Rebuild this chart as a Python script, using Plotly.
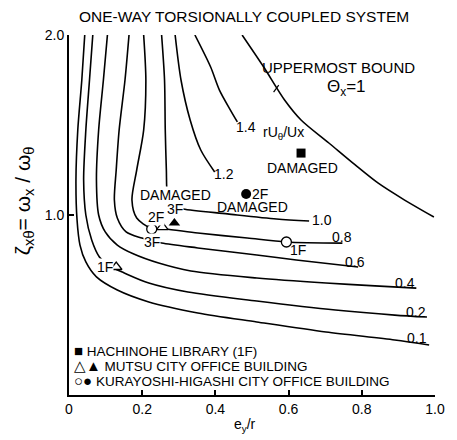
import plotly.graph_objects as go

# ---- contour curves rU_theta/U_x ----
c01_x = [0.043, 0.035, 0.024, 0.019, 0.022, 0.030, 0.046, 0.075, 0.132, 0.218, 0.352, 0.513, 0.702, 0.890, 0.984]
c01_y = [2.0, 1.75, 1.472, 1.194, 0.972, 0.833, 0.739, 0.656, 0.583, 0.517, 0.456, 0.406, 0.350, 0.306, 0.278]
c02_x = [0.065, 0.056, 0.046, 0.040, 0.046, 0.062, 0.083, 0.110, 0.151, 0.218, 0.325, 0.513, 0.728, 0.890, 0.978]
c02_y = [2.0, 1.75, 1.472, 1.194, 1.0, 0.861, 0.767, 0.717, 0.678, 0.622, 0.572, 0.522, 0.472, 0.444, 0.433]
c04_x = [0.105, 0.094, 0.081, 0.075, 0.081, 0.099, 0.132, 0.177, 0.245, 0.333, 0.513, 0.702, 0.836, 0.949]
c04_y = [2.0, 1.75, 1.472, 1.194, 1.0, 0.906, 0.833, 0.783, 0.733, 0.689, 0.650, 0.622, 0.606, 0.594]
c06_x = [0.164, 0.153, 0.137, 0.129, 0.124, 0.132, 0.156, 0.199, 0.253, 0.352, 0.513, 0.621, 0.790]
c06_y = [2.0, 1.75, 1.472, 1.25, 1.083, 0.983, 0.906, 0.872, 0.844, 0.817, 0.778, 0.750, 0.711]
c08_x = [0.204, 0.210, 0.204, 0.185, 0.172, 0.185, 0.223, 0.263, 0.352, 0.487, 0.594, 0.747]
c08_y = [2.0, 1.75, 1.472, 1.25, 1.083, 0.983, 0.928, 0.922, 0.900, 0.872, 0.850, 0.844]
c10_x = [0.253, 0.261, 0.263, 0.266, 0.269, 0.282, 0.312, 0.433, 0.567, 0.656]
c10_y = [2.0, 1.75, 1.472, 1.25, 1.111, 1.05, 1.033, 1.006, 0.978, 0.967]
c12_x = [0.290, 0.306, 0.331, 0.360, 0.398]
c12_y = [2.0, 1.75, 1.528, 1.361, 1.239]
c14_x = [0.344, 0.387, 0.411, 0.441, 0.460]
c14_y = [2.0, 1.822, 1.694, 1.583, 1.517]
bound_x = [0.473, 0.532, 0.589, 0.634, 0.710, 0.782, 0.844, 0.917, 0.997]
bound_y = [2.0, 1.822, 1.639, 1.528, 1.4, 1.278, 1.178, 1.083, 0.989]

# ---- buildings ----
hach_x = [0.634]
hach_y = [1.344]
mutsu_open_x = [0.255, 0.129]
mutsu_open_y = [0.933, 0.711]
mutsu_fill_x = [0.288]
mutsu_fill_y = [0.956]
kura_open_x = [0.226, 0.594]
kura_open_y = [0.922, 0.850]
kura_fill_x = [0.484]
kura_fill_y = [1.117]

x_ticks = [0, 0.2, 0.4, 0.6, 0.8, 1.0]
x_tick_text = ["0", "0.2", "0.4", "0.6", "0.8", "1.0"]
y_ticks = [1.0, 2.0]
y_tick_text = ["1.0", "2.0"]

FONT = "Liberation Sans, Arial, sans-serif"

fig = go.Figure()
for cx, cy in [(c01_x, c01_y), (c02_x, c02_y), (c04_x, c04_y), (c06_x, c06_y),
               (c08_x, c08_y), (c10_x, c10_y), (c12_x, c12_y), (c14_x, c14_y),
               (bound_x, bound_y)]:
    fig.add_trace(go.Scatter(x=cx, y=cy, mode="lines",
                             line=dict(color="black", width=1.6, shape="spline", smoothing=0.8),
                             showlegend=False, hoverinfo="skip"))

def ann(x, y, text, size=14, bg=None, **kw):
    d = dict(x=x, y=y, text=text, showarrow=False, xanchor="center", yanchor="middle",
             font=dict(family=FONT, size=size, color="black"))
    if bg:
        d["bgcolor"] = bg
        d["borderpad"] = 0
    d.update(kw)
    fig.add_annotation(**d)

ann(0.290, 1.111, "DAMAGED", bg="white")
ann(0.290, 1.036, "3F", bg="white")
ann(0.239, 0.989, "2F", bg="white")
ann(0.226, 0.848, "3F", bg="white")
ann(0.626, 0.806, "1F")
ann(0.097, 0.711, "1F", bg="white")
ann(0.522, 1.117, "2F")
ann(0.500, 1.044, "DAMAGED")
ann(0.637, 1.261, "DAMAGED")

# markers
fig.add_trace(go.Scatter(x=hach_x, y=hach_y, mode="markers",
                         marker=dict(symbol="square", size=9, color="black"), showlegend=False))
fig.add_trace(go.Scatter(x=mutsu_open_x, y=mutsu_open_y, mode="markers",
                         marker=dict(symbol="triangle-up", size=10, color="white",
                                     line=dict(color="black", width=1.3)), showlegend=False))
fig.add_trace(go.Scatter(x=mutsu_fill_x, y=mutsu_fill_y, mode="markers",
                         marker=dict(symbol="triangle-up", size=10, color="black"), showlegend=False))
fig.add_trace(go.Scatter(x=kura_open_x, y=kura_open_y, mode="markers",
                         marker=dict(symbol="circle", size=10, color="white",
                                     line=dict(color="black", width=1.3)), showlegend=False))
fig.add_trace(go.Scatter(x=kura_fill_x, y=kura_fill_y, mode="markers",
                         marker=dict(symbol="circle", size=10, color="black"), showlegend=False))

# curve labels
ann(0.952, 0.317, "0.1")
ann(0.949, 0.461, "0.2")
ann(0.917, 0.622, "0.4")
ann(0.782, 0.739, "0.6")
ann(0.747, 0.878, "0.8")
ann(0.690, 0.972, "1.0")
ann(0.424, 1.228, "1.2")
ann(0.484, 1.489, "1.4")
ann(0.586, 1.456, "rU<sub>θ</sub>/Ux")
ann(0.737, 1.822, "UPPERMOST BOUND", size=15)
ann(0.757, 1.706, "Θ<sub>x</sub>=1", size=17)
fig.add_shape(type="line", x0=0.559, y0=1.683, x1=0.573, y1=1.722,
              line=dict(color="black", width=1.2))

# legend as text
leg = dict(xref="paper", yref="paper", xanchor="left", yanchor="middle", showarrow=False,
           font=dict(family=FONT, size=13.5, color="black"))
sym = '<span style="font-size:15px">{}</span>'
fig.add_annotation(x=0.008, y=0.125, text=sym.format("■") + " HACHINOHE LIBRARY (1F)", **leg)
fig.add_annotation(x=0.008, y=0.083, text=sym.format("△▲") + " MUTSU CITY OFFICE BUILDING", **leg)
fig.add_annotation(x=0.008, y=0.039, text=sym.format("○●") + " KURAYOSHI-HIGASHI CITY OFFICE BUILDING", **leg)

# titles
fig.add_annotation(x=0.481, y=-0.083, xref="paper", yref="paper", text="e<sub>y</sub>/r",
                   xanchor="center", yanchor="middle",
                   showarrow=False, font=dict(family=FONT, size=14, color="black"))
fig.add_annotation(x=-0.124, y=0.54, xref="paper", yref="paper", textangle=-90,
                   xanchor="center", yanchor="middle",
                   text="ζ<sub>xθ</sub>= ω<sub>x</sub> / ω<sub>θ</sub>",
                   showarrow=False, font=dict(family=FONT, size=21, color="black"))
fig.add_annotation(x=0.478, y=1.05, xref="paper", yref="paper",
                   xanchor="center", yanchor="middle",
                   text="ONE-WAY TORSIONALLY COUPLED SYSTEM",
                   showarrow=False, font=dict(family=FONT, size=15.5, color="black"))

axis_common = dict(showgrid=False, zeroline=False, showline=True, linecolor="black",
                   linewidth=2, ticks="inside", ticklen=5, tickwidth=1.5, tickcolor="black",
                   tickfont=dict(family=FONT, size=14, color="black"))
fig.update_xaxes(range=[0, 1.0], tickvals=x_ticks, ticktext=x_tick_text, **axis_common)
fig.update_yaxes(range=[0, 2.0], tickvals=y_ticks, ticktext=y_tick_text, **axis_common)

# page body has an 8px margin, so the figure is sized/offset to compensate
fig.update_layout(width=449, height=432, margin=dict(l=61, r=16, t=27, b=45),
                  plot_bgcolor="white", paper_bgcolor="white", showlegend=False)

fig.write_html("out.html")
